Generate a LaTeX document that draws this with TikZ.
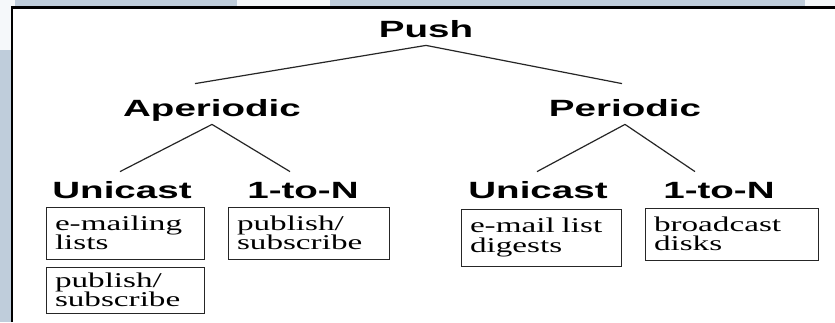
\documentclass[tikz,border=0pt]{standalone}
\usepackage{fontspec}
\usepackage{tikz}
\usetikzlibrary{positioning,calc}
\newfontfamily\headfont[FakeStretch=1.64]{Liberation Sans}
\newfontfamily\boxfont[FakeStretch=1.58]{Liberation Serif}
\definecolor{slate}{RGB}{191,205,219}
\definecolor{paper}{RGB}{245,248,250}

\begin{document}
\begin{tikzpicture}[x=1pt, y=-1pt, thick]
        \tikzset{
            lbl/.style={font=\headfont\bfseries\fontsize{23.5}{27}\selectfont, anchor=base, inner sep=2pt, text depth=6pt},
            rootlbl/.style={lbl, text height=16pt},
            midlbl/.style={lbl, text height=30pt},
            leaflbl/.style={lbl, text height=24pt},
            leafbox/.style={draw=black!85, line width=0.9pt, rectangle, align=left, inner xsep=9pt, inner ysep=2pt, font=\boxfont\fontsize{21}{19.5}\selectfont},
            branch/.style={draw=black!85, line width=1.2pt}
        }
        \useasboundingbox (0,0) rectangle (835,322);
        
        % Slide background
        \fill[paper] (0,0) rectangle (835,322);
        \fill[slate] (15,0) rectangle (237,8);
        \fill[slate] (330,0) rectangle (805,8);
        \fill[slate] (0,50) rectangle (12,322);
        \fill[white] (12,7) rectangle (835,322);
        \draw[line width=2.5pt] (12,322) -- (12,7.5) -- (835,7.5);
        
        % Root
        \node[rootlbl] (push) at (426,37) {Push};
        
        % Second level
        \node[midlbl] (aper) at (212,116) {Aperiodic};
        \node[midlbl] (peri) at (625,116) {Periodic};
        
        % Third level
        \node[leaflbl] (uni1) at (122,198) {Unicast};
        \node[leaflbl] (multi1) at (303,198) {1-to-N};
        \node[leaflbl] (uni2) at (538,198) {Unicast};
        \node[leaflbl] (multi2) at (719,198) {1-to-N};
        
        % Examples
        \node[leafbox, text width=140pt, minimum height=52pt] (mail) at (125,233) {e-mailing\\lists};
        \node[leafbox, text width=140pt, minimum height=46pt] (pubuni) at (125,290) {publish/\\subscribe};
        \node[leafbox, text width=143pt, minimum height=52pt] (pubmulti) at (308.5,233) {publish/\\subscribe};
        \node[leafbox, text width=142pt, minimum height=57pt] (digest) at (541,237.5) {e-mail list\\digests};
        \node[leafbox, text width=155pt, minimum height=52pt] (disks) at (731.5,234) {broadcast\\disks};
        
        % Tree branches
        \path[branch] (push.south) -- ([xshift=-17pt]aper.north);
        \path[branch] (push.south) -- ([xshift=-3pt]peri.north);
        \path[branch] (aper.south) -- ([xshift=-2pt]uni1.north);
        \path[branch] (aper.south) -- ([xshift=-13pt]multi1.north);
        \path[branch] (peri.south) -- ([xshift=-1pt]uni2.north);
        \path[branch] (peri.south) -- ([xshift=-24pt]multi2.north);
        
\end{tikzpicture}
\end{document}
